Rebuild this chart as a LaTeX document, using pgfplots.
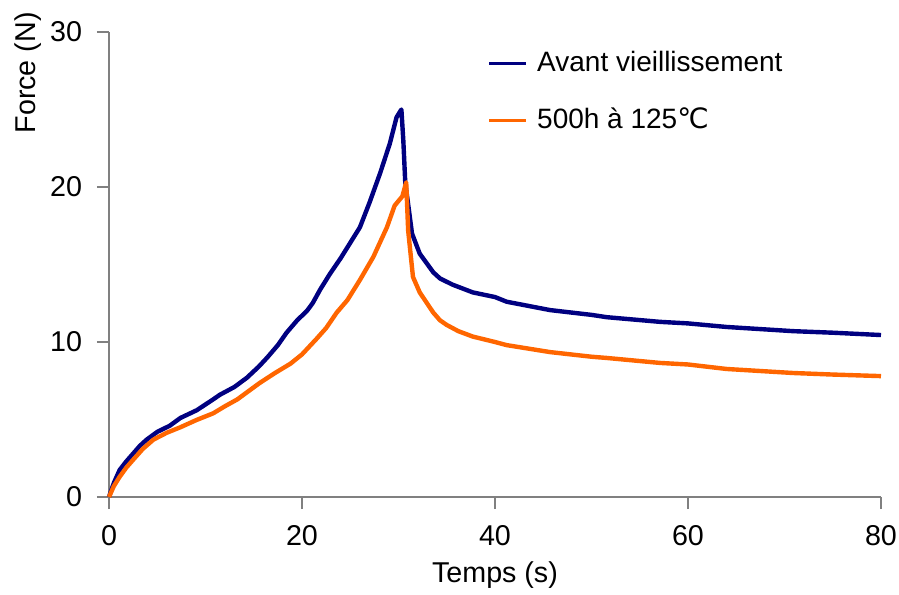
\documentclass[border=0pt]{standalone}
\usepackage{fontspec}
\setmainfont{Liberation Sans}
\newfontfamily\dejavu{DejaVu Sans}
\usepackage{pgfplots}
\pgfplotsset{compat=1.18}
\definecolor{navyc}{HTML}{000080}
\definecolor{orangec}{HTML}{FF6600}
\definecolor{axgray}{HTML}{808080}
\begin{document}
\fontsize{21}{25}\selectfont
\begin{tikzpicture}
\path[use as bounding box] (-81.75pt,-72.75pt) rectangle (592.5pt,372.75pt);
\begin{axis}[
  at={(0,0)}, anchor=south west,
  scale only axis,
  width=579pt, height=348.75pt,
  xmin=0, xmax=80, ymin=0, ymax=30,
  axis lines=left,
  axis line style={-, axgray, line width=1.1pt},
  tick style={axgray, line width=1.1pt},
  tick align=outside,
  major tick length=9pt,
  xtick={0,20,40,60,80},
  ytick={0,10,20,30},
  /pgf/number format/assume math mode=true,
  ticklabel style={font=\fontsize{21.5}{25}\selectfont},
  xticklabel style={yshift=-5pt},
  yticklabel style={xshift=-4pt},
  xlabel={Temps (s)},
  ylabel={Force (N)},
  label style={font=\fontsize{21.5}{25}\selectfont},
  xlabel style={at={(axis description cs:0.5,-0.168)}, anchor=center},
  ylabel style={at={(axis description cs:-0.105,0.912)}, anchor=center},
  legend style={draw=none, fill=none, at={(axis description cs:0.485,0.97)}, anchor=north west,
    font=\fontsize{21}{25}\selectfont, row sep=20pt, cells={anchor=west},
    /tikz/every odd column/.append style={column sep=5pt}},
  legend image code/.code={\draw[#1, line width=2.4pt] (0pt,0pt) -- (27.75pt,0pt);},
  clip=false,
]
\addplot[navyc, line width=3.3pt, line join=round] coordinates {
(0,0) (0.5,0.9) (1.1,1.74) (1.8,2.3) (2.5,2.8) (3.2,3.3) (3.9,3.7) (5,4.2) (6.3,4.6) (7.4,5.1)
(9.1,5.6) (10.8,6.3) (11.5,6.6) (13,7.1) (14.3,7.7) (15.5,8.4) (16.4,9.0) (17.5,9.8)
(18.4,10.6) (19.5,11.4) (20.5,12.0) (21.1,12.5) (21.9,13.4) (22.9,14.4) (24,15.4)
(25,16.4) (26,17.4) (27,19.0) (28.1,20.9) (29.1,22.8) (29.8,24.5) (30.3,25.0)
(30.5,23.0) (30.7,20.3) (31.4,17.0) (32.2,15.7) (33.6,14.5) (34.3,14.1) (35.6,13.7)
(37.7,13.2) (40,12.9) (41.2,12.6) (45.7,12.06) (50,11.75) (51.6,11.6) (57.1,11.3)
(60,11.2) (64,10.97) (70.9,10.7) (75,10.6) (80,10.45)
};
\addlegendentry{Avant vieillissement}
\addplot[orangec, line width=3.3pt, line join=round] coordinates {
(0,0) (0.5,0.7) (1.1,1.3) (1.8,1.9) (2.5,2.4) (3.5,3.1) (4.6,3.7) (6,4.15) (7.4,4.5)
(9,4.95) (10.8,5.4) (12,5.85) (13.3,6.3) (15.6,7.35) (17.2,8.0) (18.8,8.6) (20,9.2)
(21.5,10.2) (22.5,10.9) (23.6,11.9) (24.7,12.7) (26,14.0) (27.4,15.5) (28.8,17.4)
(29.6,18.8) (30.4,19.4) (30.8,20.3) (31.0,17.2) (31.5,14.2) (32.2,13.2) (33.6,11.9)
(34.3,11.4) (35,11.1) (36.2,10.7) (37.7,10.35) (40,10.0) (41.2,9.8) (45.7,9.35)
(50,9.05) (51.6,8.97) (57.1,8.65) (60,8.55) (64,8.26) (70.9,8.0) (75,7.9) (80,7.8)
};
\addlegendentry{500h à 125{\dejavu ℃}}
\end{axis}
\end{tikzpicture}
\end{document}
